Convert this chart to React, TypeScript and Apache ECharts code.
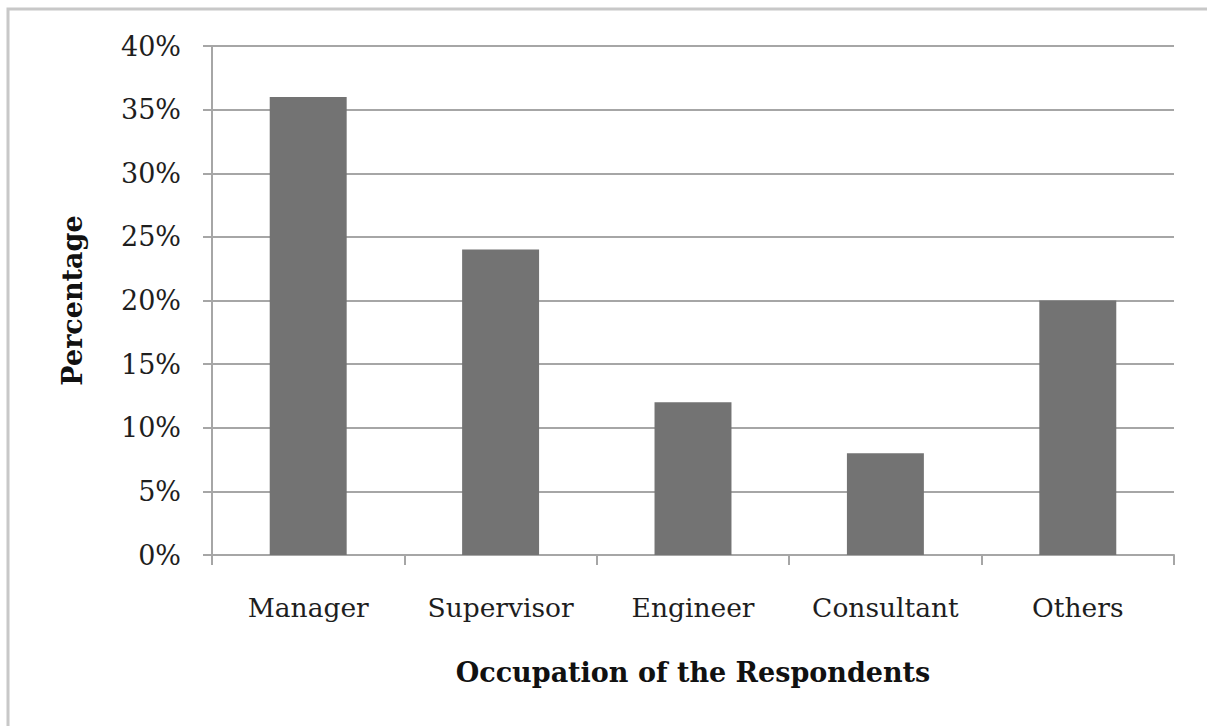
import React, { useEffect, useRef } from "react";
import * as echarts from "echarts";

const categories = ["Manager", "Supervisor", "Engineer", "Consultant", "Others"];
const percentages = [36, 24, 12, 8, 20];
const yTicks = { min: 0, max: 40, interval: 5 };
const xTitle = "Occupation of the Respondents";
const yTitle = "Percentage";

export default function App() {
  const ref = useRef<HTMLDivElement>(null);
  useEffect(() => {
    document.body.style.margin = "0";
    const chart = echarts.init(ref.current!, null, { renderer: "svg" });
    const font = "DejaVu Serif";
    const axisColor = "#a6a6a6";
    chart.setOption({
      animation: false,
      backgroundColor: "#ffffff",
      graphic: [
        {
          type: "rect",
          shape: { x: 8, y: 9, width: 1240, height: 760 },
          style: { fill: "none", stroke: "#c8c8c8", lineWidth: 3 },
          silent: true,
          z: -1,
        },
      ],
      grid: { left: 212, right: 33, top: 46, bottom: 171 },
      xAxis: {
        type: "category",
        data: categories,
        name: xTitle,
        nameLocation: "middle",
        nameGap: 104,
        nameTextStyle: { fontFamily: font, fontWeight: "bold", fontSize: 27, color: "#111" },
        axisLine: { lineStyle: { color: axisColor, width: 2 } },
        axisTick: { show: true, length: 10, interval: 0, alignWithLabel: false, lineStyle: { color: axisColor, width: 2 } },
        axisLabel: { fontFamily: font, fontSize: 26.5, color: "#1e1e1e", margin: 39, interval: 0 },
      },
      yAxis: {
        type: "value",
        min: yTicks.min,
        max: yTicks.max,
        interval: yTicks.interval,
        name: yTitle,
        nameLocation: "middle",
        nameGap: 126,
        nameRotate: 90,
        nameTextStyle: { fontFamily: font, fontWeight: "bold", fontSize: 27, color: "#111" },
        axisLine: { show: true, lineStyle: { color: axisColor, width: 2 } },
        axisTick: { show: true, length: 9, lineStyle: { color: axisColor, width: 2 } },
        axisLabel: { fontFamily: font, fontSize: 27, color: "#1e1e1e", margin: 31, formatter: "{value}%" },
        splitLine: { show: true, lineStyle: { color: axisColor, width: 2 } },
      },
      series: [
        {
          type: "bar",
          data: percentages,
          barCategoryGap: "60%",
          itemStyle: { color: "#737373" },
        },
      ],
    });
    return () => chart.dispose();
  }, []);
  return <div ref={ref} style={{ width: 1207, height: 726 }} />;
}
